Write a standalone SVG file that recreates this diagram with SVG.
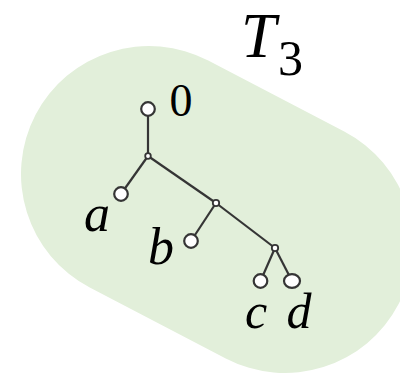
<svg xmlns="http://www.w3.org/2000/svg" width="400" height="374" viewBox="0 0 400 374">
<style>
.edge{stroke:#353535;stroke-width:2.2;fill:none}
.leaf{fill:#fff;stroke:#353535;stroke-width:2.2}
.joint{fill:#fff;stroke:#353535;stroke-width:1.8}
.lbl{font-family:"Liberation Serif","Times New Roman",serif;font-style:italic;fill:#000;text-anchor:middle}
.num{font-family:"Liberation Serif","Times New Roman",serif;fill:#000}
</style>
<g id="blob">
<path d="M149 174 L285 245" stroke="#e2efda" stroke-width="256" stroke-linecap="round" fill="none"/>
</g>
<g id="title">
<text class="num" x="241" y="57" font-size="63" font-style="italic">T</text>
<text class="num" x="278" y="75" font-size="50">3</text>
</g>
<g id="connectors">
<line class="edge" x1="148" y1="109" x2="148" y2="156"/>
<line class="edge" x1="148" y1="156" x2="121" y2="194"/>
<line class="edge" x1="148" y1="156" x2="216" y2="203"/>
<line class="edge" x1="216" y1="203" x2="191" y2="241"/>
<line class="edge" x1="216" y1="203" x2="275" y2="248"/>
<line class="edge" x1="275" y1="248" x2="260.5" y2="281"/>
<line class="edge" x1="275" y1="248" x2="292" y2="281"/>
</g>
<g id="node-0">
<circle class="leaf" cx="148" cy="109" r="6.8"/>
<text class="num" x="181" y="116" font-size="46" text-anchor="middle">0</text>
</g>
<g id="node-j1"><circle class="joint" cx="148" cy="156" r="2.8"/></g>
<g id="node-j2"><circle class="joint" cx="216" cy="203" r="3.2"/></g>
<g id="node-j3"><circle class="joint" cx="275" cy="248" r="3.2"/></g>
<g id="node-a">
<circle class="leaf" cx="121" cy="194" r="6.8"/>
<text class="lbl" x="97" y="231" font-size="52">a</text>
</g>
<g id="node-b">
<circle class="leaf" cx="191" cy="241" r="6.8"/>
<text class="lbl" x="161" y="264" font-size="52">b</text>
</g>
<g id="node-c">
<circle class="leaf" cx="260.5" cy="281" r="6.8"/>
<text class="lbl" x="256" y="328" font-size="50">c</text>
</g>
<g id="node-d">
<ellipse class="leaf" cx="292" cy="281" rx="8" ry="6.8"/>
<text class="lbl" x="299" y="328" font-size="50">d</text>
</g>
</svg>
